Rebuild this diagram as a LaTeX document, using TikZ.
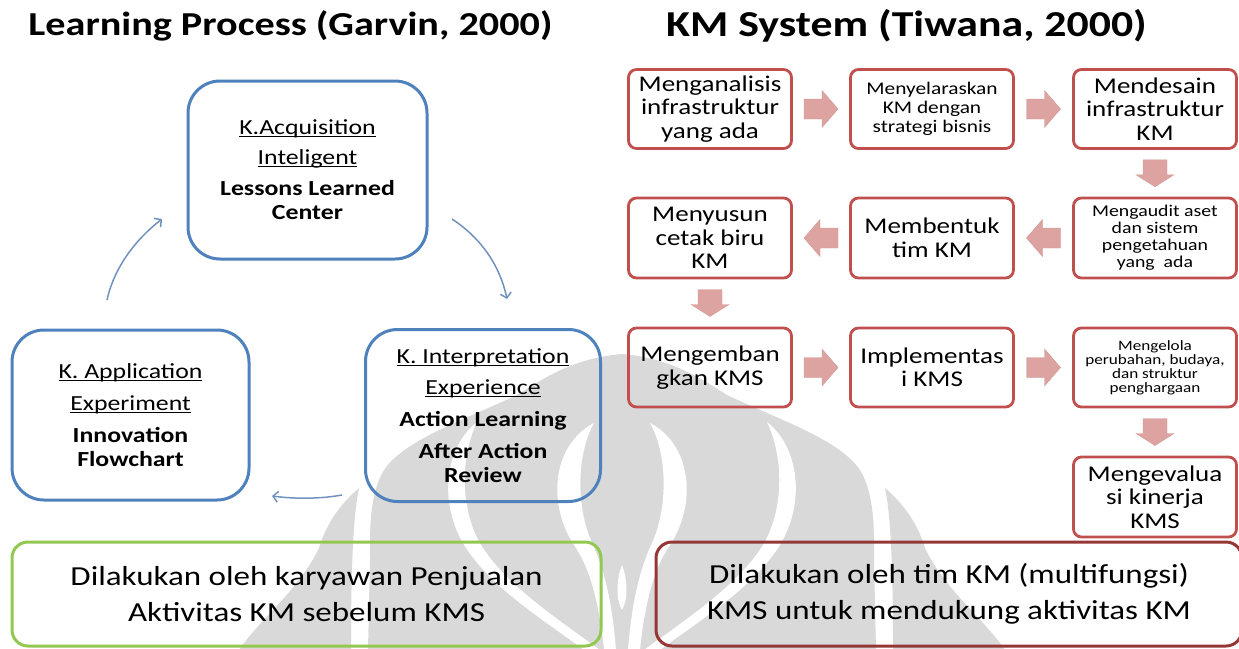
\documentclass[tikz,border=0pt]{standalone}
\usepackage{fontspec}
\setmainfont{Carlito}[FakeStretch=1.2]
\usetikzlibrary{arrows.meta,calc}

\definecolor{lpblue}{RGB}{79,129,189}
\definecolor{kmred}{RGB}{192,80,77}
\definecolor{arrowpink}{RGB}{221,163,161}
\definecolor{linkblue}{RGB}{112,146,190}
\definecolor{notegreen}{RGB}{146,200,80}
\definecolor{notered}{RGB}{149,55,53}
\definecolor{markgray}{RGB}{217,217,217}

% underline sitting just under the baseline
\newcommand\ulin[1]{\setbox0\hbox{#1}\rlap{\rule[-2.6pt]{\wd0}{1.3pt}}\box0}

\begin{document}
\begin{tikzpicture}[x=1pt,y=-1pt,
  lpbox/.style={draw=lpblue, line width=3pt, rounded corners=32pt, align=center,
    inner sep=0pt, font=\fontsize{21.5}{24}\selectfont},
  kmbox/.style={draw=kmred, line width=2.8pt, rounded corners=8pt, align=center,
    inner sep=0pt, minimum width=163pt, minimum height=79pt},
  bigtxt/.style={font=\fontsize{22.5}{23.5}\selectfont},
  % chunky block arrows, drawn pointing east (or south) from their centre
  hblock/.pic={\fill[arrowpink, draw=arrowpink!94!black, line width=0.4pt]
    (-17,-10) -- (1,-10) -- (1,-18.5) -- (17,0) -- (1,18.5) -- (1,10) -- (-17,10) -- cycle;},
  vblock/.pic={\fill[arrowpink, draw=arrowpink!94!black, line width=0.4pt]
    (-12,-13.5) -- (12,-13.5) -- (12,1.5) -- (19,1.5) -- (0,13.5) -- (-19,1.5) -- (-12,1.5) -- cycle;},
  link/.style={draw=linkblue, line width=1.5pt, -{Straight Barb[length=5pt,width=11pt]}},
  notebox/.style={line width=3pt, rounded corners=16pt, align=center, inner sep=0pt,
    minimum height=104pt, font=\fontsize{27.5}{36}\selectfont},
  titletxt/.style={anchor=base, font=\fontsize{33.5}{36}\selectfont\bfseries}
]
\useasboundingbox (0,0) rectangle (1239,648);
\clip (0,0) rectangle (1239,648);

% ---- faint emblem in the background ----
\fill[markgray] (622,354) .. controls (670,358) and (700,378) .. (727,395)
  .. controls (780,420) and (840,440) .. (860,470)
  .. controls (875,495) and (874,530) .. (874,560) -- (876,650) -- (368,650) -- (370,560)
  .. controls (370,530) and (369,495) .. (384,470)
  .. controls (404,440) and (464,420) .. (517,395)
  .. controls (544,378) and (574,358) .. (622,354) -- cycle;
\foreach \s/\m in {1/0,-1/1244}{
  \begin{scope}[shift={(\m,0)}, xscale=\s]
    \fill[markgray] (885,488) .. controls (905,505) and (918,525) .. (925,548)
      .. controls (945,590) and (985,620) .. (1005,650) -- (893,650)
      .. controls (893,590) and (892,520) .. (885,488) -- cycle;
    \fill[white] (650,423) .. controls (692,445) and (698,505) .. (668,548)
      .. controls (655,568) and (645,600) .. (640,650) -- (628,650)
      .. controls (632,600) and (640,570) .. (651,545)
      .. controls (668,510) and (668,455) .. (650,423) -- cycle;
    \fill[white] (767,422) .. controls (800,448) and (806,505) .. (778,548)
      .. controls (750,590) and (700,620) .. (660,650) -- (644,650)
      .. controls (688,618) and (738,585) .. (763,545)
      .. controls (785,508) and (783,455) .. (767,422) -- cycle;
  \end{scope}
}
\fill[white] (622,565) .. controls (628,580) and (628,600) .. (622,610)
  .. controls (616,600) and (616,580) .. (622,565) -- cycle;

% ---- titles ----
\node[titletxt] (ttlL) at (290.5,35) {Learning Process (Garvin, 2000)};
\node[titletxt, font=\fontsize{36.5}{38}\selectfont\bfseries] (ttlR) at (906.5,36) {KM System (Tiwana, 2000)};

% ---- learning cycle ----
\node[lpbox, minimum width=239pt, minimum height=178pt] (acq) at (307.5,170)
  {\ulin{K.Acquisition}\\[6pt]\ulin{Inteligent}\\[7pt]\textbf{Lessons Learned}\\\textbf{Center}};
\node[lpbox, minimum width=237pt, minimum height=170pt] (app) at (130.5,415)
  {\ulin{K. Application}\\[8pt]\ulin{Experiment}\\[8pt]\textbf{Innovation}\\\textbf{Flowchart}};
\node[lpbox, minimum width=235pt, minimum height=172pt] (int) at (483,415.5)
  {\ulin{K. Interpretation}\\[7pt]\ulin{Experience}\\[8pt]\textbf{Action Learning}\\[8pt]\textbf{After Action}\\\textbf{Review}};

\coordinate (aS) at (452,219); \coordinate (aE) at (507,299);
\coordinate (bS) at (342,495); \coordinate (bE) at (272,496);
\coordinate (cS) at (107,300); \coordinate (cE) at (162,219);
\draw[link] (aS) .. controls (478,236) and (499,262) .. (aE);
\draw[link] (bS) .. controls (320,499) and (295,499) .. (bE);
\draw[link] (cS) .. controls (114,268) and (135,240) .. (cE);

% ---- KM system steps ----
\node[kmbox, bigtxt] (s1) at (710,109) {Menganalisis\\infrastruktur\\yang ada};
\node[kmbox, font=\fontsize{17.8}{19}\selectfont] (s2) at (932,109) {Menyelaraskan\\KM dengan\\strategi bisnis};
\node[kmbox, bigtxt] (s3) at (1155,109) {Mendesain\\infrastruktur\\KM};
\node[kmbox, font=\fontsize{16.5}{17}\selectfont, minimum height=80pt] (s4) at (1155,238) {Mengaudit aset\\dan sistem\\pengetahuan\\yang\ \ ada};
\node[kmbox, bigtxt, minimum height=80pt] (s5) at (932,238) {Membentuk\\tim KM};
\node[kmbox, bigtxt, minimum height=80pt] (s6) at (710,238) {Menyusun\\cetak biru\\KM};
\node[kmbox, bigtxt] (s7) at (710,367.5) {Mengemban\\gkan KMS};
\node[kmbox, bigtxt] (s8) at (932,367.5) {Implementas\\i KMS};
\node[kmbox, font=\fontsize{14.3}{14}\selectfont] (s9) at (1155,367.5) {Mengelola\\perubahan, budaya,\\dan struktur\\penghargaan};
\node[kmbox, bigtxt, minimum height=80pt] (s10) at (1155,497) {Mengevalua\\si kinerja\\KMS};

\pic (p12) at ($(s1.east)!0.5!(s2.west)$) {hblock};
\pic (p23) at ($(s2.east)!0.5!(s3.west)$) {hblock};
\pic (p34) at ($(s3.south)!0.5!(s4.north)$) {vblock};
\pic[xscale=-1] (p45) at ($(s4.west)!0.5!(s5.east)$) {hblock};
\pic[xscale=-1] (p56) at ($(s5.west)!0.5!(s6.east)$) {hblock};
\pic (p67) at ($(s6.south)!0.5!(s7.north)$) {vblock};
\pic (p78) at ($(s7.east)!0.5!(s8.west)$) {hblock};
\pic (p89) at ($(s8.east)!0.5!(s9.west)$) {hblock};
\pic (p910) at ($(s9.south)!0.5!(s10.north)$) {vblock};

% ---- notes at the bottom ----
\node[notebox, draw=notegreen, minimum width=589pt] (noteL) at (306.5,594)
  {Dilakukan oleh karyawan Penjualan\\Aktivitas KM sebelum KMS};
\node[notebox, draw=notered, minimum width=586pt] (noteR) at (949,594)
  {Dilakukan oleh tim KM (multifungsi)\\KMS untuk mendukung aktivitas KM};
\end{tikzpicture}
\end{document}
